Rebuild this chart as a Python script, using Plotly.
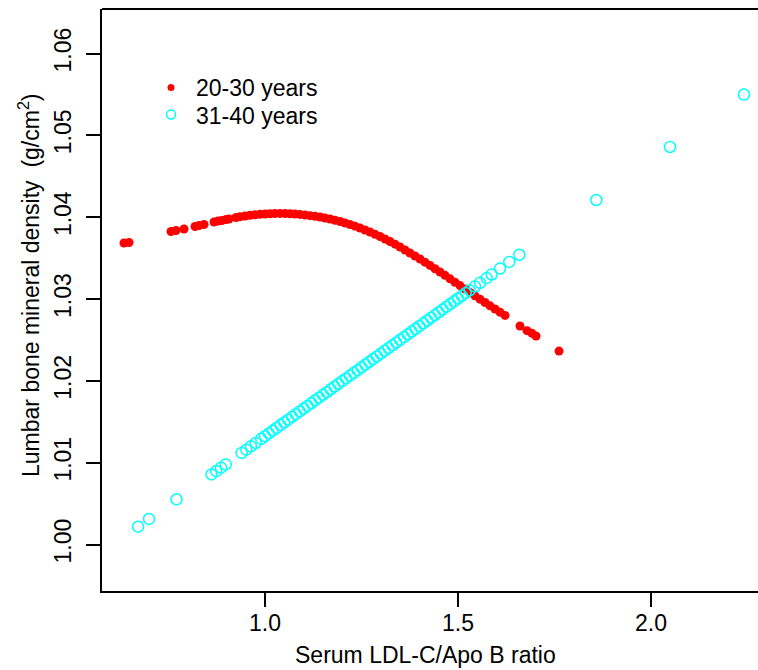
import plotly.graph_objects as go

# ---- Data ----
red_label = "20-30 years"
cyan_label = "31-40 years"

red_x = [0.6347, 0.6477, 0.7565, 0.7694, 0.7902, 0.8187, 0.8290, 0.8420, 0.8679, 0.8782,
         0.8886, 0.8990, 0.9067,
         0.9249, 0.9352,
         0.9482, 0.9611, 0.9741, 0.9870, 1.0000, 1.0130, 1.0259, 1.0389, 1.0518, 1.0648,
         1.0777, 1.0907, 1.1036, 1.1166, 1.1295, 1.1425, 1.1554, 1.1684, 1.1813, 1.1943,
         1.2073, 1.2202, 1.2332, 1.2461, 1.2591, 1.2720, 1.2850, 1.2979, 1.3109, 1.3238,
         1.3368, 1.3497, 1.3627, 1.3756, 1.3886, 1.4016, 1.4145, 1.4275, 1.4404, 1.4534,
         1.4663, 1.4793, 1.4922, 1.5052, 1.5181, 1.5311, 1.5440, 1.5570, 1.5699, 1.5829,
         1.5959, 1.6088, 1.6218,
         1.6606, 1.6788, 1.6917, 1.7021, 1.7617]
red_y = [1.03685, 1.03691, 1.03825, 1.03837, 1.03856, 1.03886, 1.03898, 1.03911, 1.03941, 1.03953,
         1.03959, 1.03972, 1.03978,
         1.03996, 1.04005,
         1.04014, 1.04023, 1.04029, 1.04035, 1.04039, 1.04042, 1.04045, 1.04046, 1.04045, 1.04042,
         1.04039, 1.04034, 1.04027, 1.04019, 1.04011, 1.04002, 1.03990, 1.03978, 1.03962, 1.03947,
         1.03929, 1.03911, 1.03890, 1.03868, 1.03843, 1.03819, 1.03792, 1.03764, 1.03733, 1.03703,
         1.03670, 1.03636, 1.03599, 1.03562, 1.03526, 1.03489, 1.03450, 1.03411, 1.03370, 1.03330,
         1.03289, 1.03247, 1.03205, 1.03164, 1.03122, 1.03081, 1.03039, 1.02998, 1.02957, 1.02917,
         1.02878, 1.02839, 1.02800,
         1.02670, 1.02613, 1.02581, 1.02548, 1.02364]

cyan_x = [0.6712, 0.6997, 0.7707, 0.8614, 0.8738, 0.8860, 0.8982, 0.9396, 0.9516, 0.9637, 0.9759,
          0.99, 1.00, 1.01, 1.02, 1.03, 1.04, 1.05, 1.06, 1.07, 1.08,
          1.09, 1.10, 1.11, 1.12, 1.13, 1.14, 1.15, 1.16, 1.17, 1.18,
          1.19, 1.20, 1.21, 1.22, 1.23, 1.24, 1.25, 1.26, 1.27, 1.28,
          1.29, 1.30, 1.31, 1.32, 1.33, 1.34, 1.35, 1.36, 1.37, 1.38,
          1.39, 1.40, 1.41, 1.42, 1.43, 1.44, 1.45, 1.46, 1.47, 1.48,
          1.49, 1.50, 1.51, 1.52, 1.53,
          1.5440, 1.5570, 1.5743, 1.5873, 1.6088, 1.6329, 1.6588,
          1.8583, 2.0492, 2.2409]
cyan_y = [1.00218, 1.00313, 1.00552, 1.00857, 1.00897, 1.00939, 1.00979, 1.01119, 1.01159, 1.01200, 1.01241,
          1.01291, 1.01324, 1.01358, 1.01392, 1.01425, 1.01459, 1.01492, 1.01526, 1.01560, 1.01593,
          1.01627, 1.01661, 1.01694, 1.01728, 1.01761, 1.01795, 1.01829, 1.01862, 1.01896, 1.01930,
          1.01963, 1.01997, 1.02030, 1.02064, 1.02098, 1.02131, 1.02165, 1.02199, 1.02232, 1.02266,
          1.02299, 1.02333, 1.02367, 1.02400, 1.02434, 1.02468, 1.02501, 1.02535, 1.02568, 1.02602,
          1.02636, 1.02669, 1.02703, 1.02737, 1.02770, 1.02804, 1.02837, 1.02871, 1.02905, 1.02938,
          1.02972, 1.03006, 1.03039, 1.03073, 1.03106,
          1.03154, 1.03198, 1.03256, 1.03300, 1.03372, 1.03453, 1.03541,
          1.04210, 1.04858, 1.05499]

x_ticks = [1.0, 1.5, 2.0]
x_tick_labels = ["1.0", "1.5", "2.0"]
y_ticks = [1.00, 1.01, 1.02, 1.03, 1.04, 1.05, 1.06]
y_tick_labels = ["1.00", "1.01", "1.02", "1.03", "1.04", "1.05", "1.06"]

x_title = "Serum LDL-C/Apo B ratio"
y_title = "Lumbar bone mineral density  (g/cm<sup>2</sup>)"

FONT = "Liberation Sans, Arial, Helvetica, sans-serif"
FS = 23
RED = "#FF0000"
CYAN = "#00FFFF"

fig = go.Figure()
fig.add_trace(go.Scatter(x=red_x, y=red_y, mode="markers", showlegend=False,
                         marker=dict(color=RED, size=9, line=dict(width=0))))
fig.add_trace(go.Scatter(x=cyan_x, y=cyan_y, mode="markers", showlegend=False,
                         marker=dict(color=CYAN, size=11, symbol="circle-open", line=dict(width=1.5, color=CYAN))))
# legend entries (one legend box each, so their spacing can follow the reference)
fig.add_trace(go.Scatter(x=[None], y=[None], mode="markers", name=red_label, legend="legend",
                         marker=dict(color=RED, size=7)))
fig.add_trace(go.Scatter(x=[None], y=[None], mode="markers", name=cyan_label, legend="legend2",
                         marker=dict(color=CYAN, size=9, symbol="circle-open", line=dict(width=1.5, color=CYAN))))

axis_common = dict(showgrid=False, zeroline=False, showline=True, linecolor="black", linewidth=1.8,
                   ticks="outside", ticklen=14, tickwidth=1.5, tickcolor="black",
                   tickfont=dict(family=FONT, size=FS, color="black"))

fig.update_xaxes(range=[0.5777, 2.2772], tickvals=x_ticks, ticktext=x_tick_labels,
                 ticklabelstandoff=-4, **axis_common)
fig.update_yaxes(range=[0.99432, 1.06544], tickvals=y_ticks, ticktext=y_tick_labels, tickangle=-90,
                 ticklabelstandoff=6, **axis_common)

legend_common = dict(xanchor="left", yanchor="top", bgcolor="rgba(0,0,0,0)", itemwidth=40,
                     font=dict(family=FONT, size=FS, color="black"))

fig.update_layout(
    width=758, height=670,
    margin=dict(l=102, r=0, t=9, b=79),
    paper_bgcolor="white", plot_bgcolor="white",
    font=dict(family=FONT, size=FS, color="black"),
    legend=dict(x=0.0671, y=0.9020, **legend_common),
    legend2=dict(x=0.0671, y=0.8555, **legend_common),
    shapes=[dict(type="line", xref="paper", yref="paper", x0=0, x1=1, y0=1, y1=1,
                 line=dict(color="black", width=1.8))],
    annotations=[
        dict(text=x_title, xref="paper", yref="paper", x=0.4939, y=0, xanchor="center", yanchor="middle",
             yshift=-64, showarrow=False, font=dict(family=FONT, size=FS, color="black")),
        dict(text=y_title, xref="paper", yref="paper", x=0, y=0.5258, xanchor="center", yanchor="middle",
             xshift=-73, textangle=-90, showarrow=False, font=dict(family=FONT, size=FS, color="black")),
    ],
)

fig.write_html("out.html", config={"displayModeBar": False},
               post_script="document.body.style.margin='0';")
